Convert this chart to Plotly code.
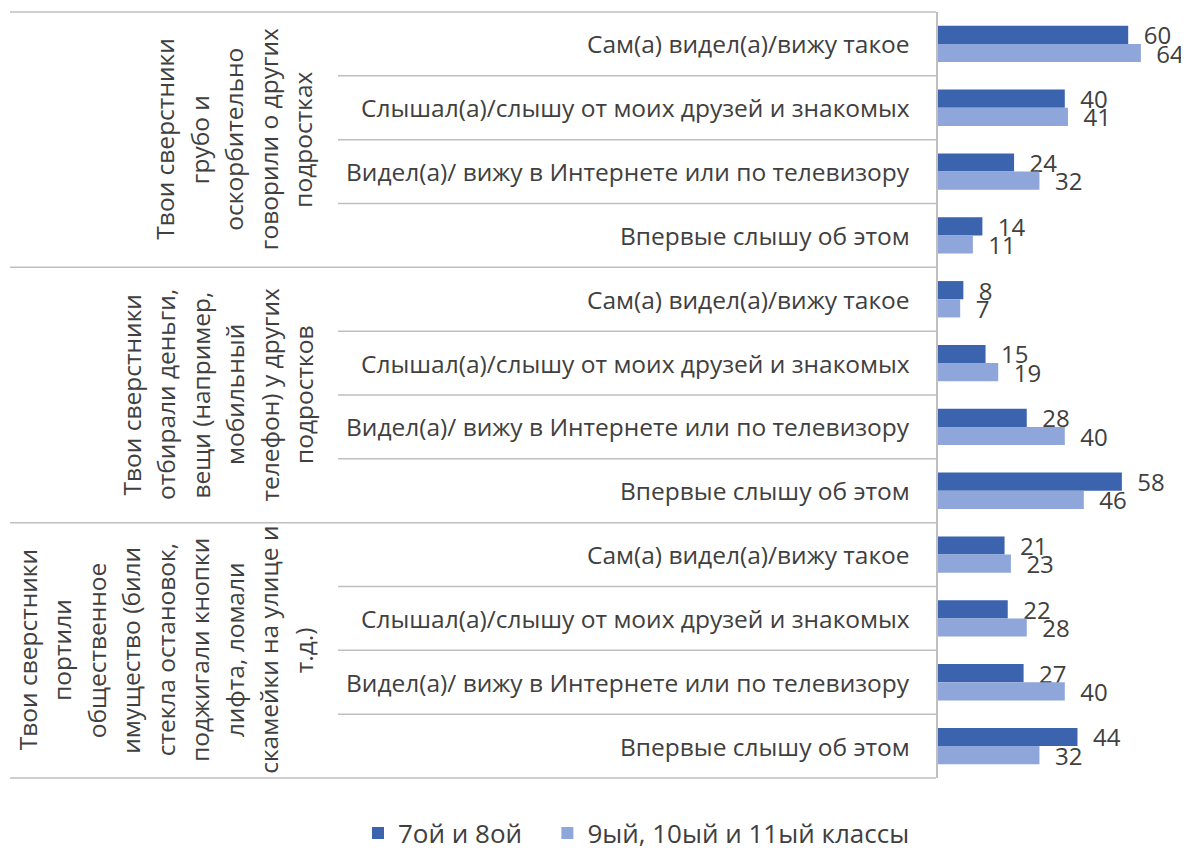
import plotly.graph_objects as go

# ---- data ----
subcats = ["Сам(а) видел(а)/вижу такое",
           "Слышал(а)/слышу от моих друзей и знакомых",
           "Видел(а)/ вижу в Интернете или по телевизору",
           "Впервые слышу об этом"]
groups = [
    ["Твои сверстники", "грубо и", "оскорбительно", "говорили о других", "подростках"],
    ["Твои сверстники", "отбирали деньги,", "вещи (например,", "мобильный", "телефон) у других", "подростков"],
    ["Твои сверстники", "портили", "общественное", "имущество (били", "стекла остановок,",
     "поджигали кнопки", "лифта, ломали", "скамейки на улице и", "т.д.)"],
]
series_names = ["7ой и 8ой", "9ый, 10ый и 11ый классы"]
vals_78 = [60, 40, 24, 14, 8, 15, 28, 58, 21, 22, 27, 44]
vals_911 = [64, 41, 32, 11, 7, 19, 40, 46, 23, 28, 40, 32]
colors = ["#3c64ae", "#8ea6d9"]

# ---- layout constants (page pixels; body has an 8px margin) ----
OFF = 8
W, H = 1189 - OFF, 848 - OFF
PLOT_L, PLOT_T, PLOT_B = 938, 12, 778     # page coordinates of the bar area
T = PLOT_T - OFF
B = H - (PLOT_B - OFF)
PH = PLOT_B - PLOT_T
FONT = "Open Sans"
TXT = "#404040"
LINE = "#bfbfbf"
PX_PER_UNIT = 3.17

n = len(subcats) * len(groups)
ypos = list(range(n))

def px(page_x):
    return (page_x - OFF) / W

x_dom0 = px(PLOT_L)

fig = go.Figure()
for k, (name, vals, c) in enumerate(zip(series_names, [vals_78, vals_911], colors)):
    pad = "\u00a0\u00a0\u00a0" if k == 0 else ""
    fig.add_trace(go.Bar(
        x=vals, y=ypos, orientation="h", name=name + pad,
        marker=dict(color=c, line=dict(width=0)),
        text=vals, texttemplate="\u00a0\u00a0%{x}", textposition="outside",
        constraintext="none",
        textfont=dict(family=FONT, size=24, color=TXT),
        cliponaxis=False,
    ))

annotations = []
shapes = []
# category labels
for i in range(n):
    annotations.append(dict(
        x=px(912), y=i, xref="paper", yref="y", text=subcats[i % len(subcats)],
        showarrow=False, xanchor="right", yanchor="middle",
        font=dict(family=FONT, size=24.5, color=TXT)))
# group labels (rotated lines)
ns = len(subcats)
for g, lines in enumerate(groups):
    yc = g * ns + (ns - 1) / 2
    m = len(lines)
    for j, ln in enumerate(lines):
        annotations.append(dict(
            x=px(303 - (m - 1 - j) * 34.5), y=yc, xref="paper", yref="y", text=ln,
            showarrow=False, textangle=-90, xanchor="center", yanchor="middle",
            font=dict(family=FONT, size=24.5, color=TXT)))
# separator lines
for k in range(n + 1):
    yp = 1 - k / n
    x0 = 10 if k % ns == 0 else 338
    shapes.append(dict(type="line", xref="paper", yref="paper",
                       x0=px(x0), x1=px(936), y0=yp, y1=yp,
                       line=dict(color=LINE, width=1.5)))

fig.update_layout(
    width=W, height=H,
    margin=dict(l=0, r=0, t=T, b=B, autoexpand=False),
    paper_bgcolor="white", plot_bgcolor="white",
    barmode="group", bargap=0.43, bargroupgap=0,
    xaxis=dict(domain=[x_dom0, 1], range=[0, (1189 - PLOT_L) / PX_PER_UNIT],
               visible=False, fixedrange=True),
    yaxis=dict(range=[n - 0.5, -0.5], showticklabels=False, showgrid=False,
               zeroline=False, showline=True, linecolor=LINE, linewidth=1.5,
               ticks=""),
    showlegend=True,
    legend=dict(orientation="h", x=px(358), xanchor="left",
                y=-(833 - PLOT_B) / PH, yanchor="middle",
                font=dict(family=FONT, size=26, color=TXT),
                itemwidth=30, traceorder="normal"),
    annotations=annotations, shapes=shapes,
)

fig.write_html("out.html")
